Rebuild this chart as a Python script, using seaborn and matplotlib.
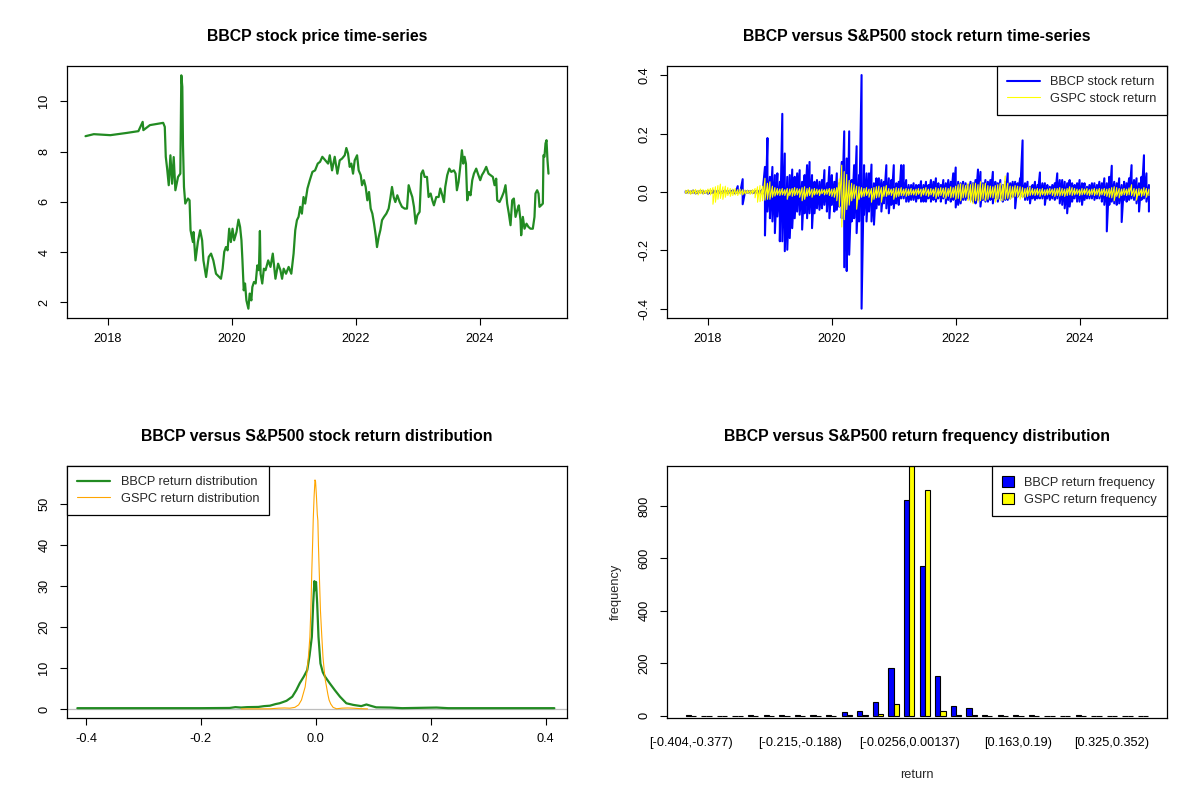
import numpy as np
import pandas as pd
import seaborn as sns
import matplotlib
matplotlib.use("Agg")
import matplotlib.pyplot as plt

# ---- BBCP price (decimal year, price) ----
price_year = [2017.637, 2017.771, 2018.037, 2018.304, 2018.491, 2018.560, 2018.571, 2018.677, 2018.891,
              2018.917, 2018.933, 2018.955, 2018.981, 2019.008, 2019.035, 2019.061, 2019.088, 2019.131,
              2019.168, 2019.184, 2019.200, 2019.211, 2019.227, 2019.248, 2019.291, 2019.317, 2019.333,
              2019.371, 2019.381, 2019.413, 2019.451, 2019.488, 2019.520, 2019.541, 2019.584, 2019.627,
              2019.664, 2019.701, 2019.744, 2019.797, 2019.824, 2019.851, 2019.877, 2019.904, 2019.931,
              2019.957, 2019.984, 2020.011, 2020.037, 2020.075, 2020.107, 2020.133, 2020.155, 2020.171,
              2020.192, 2020.213, 2020.235, 2020.267, 2020.288, 2020.315, 2020.331, 2020.357, 2020.384,
              2020.411, 2020.437, 2020.453, 2020.464, 2020.491, 2020.517, 2020.544, 2020.587, 2020.624,
              2020.661, 2020.704, 2020.747, 2020.784, 2020.811, 2020.837, 2020.875, 2020.917, 2020.960,
              2020.997, 2021.024, 2021.051, 2021.077, 2021.104, 2021.131, 2021.157, 2021.184, 2021.221,
              2021.259, 2021.301, 2021.344, 2021.387, 2021.424, 2021.461,
              2021.554, 2021.581, 2021.618, 2021.661, 2021.704, 2021.742, 2021.780, 2021.823, 2021.849,
              2021.876, 2021.903, 2021.930, 2021.957, 2021.984, 2022.022, 2022.048, 2022.081, 2022.102,
              2022.134, 2022.161, 2022.188, 2022.215, 2022.242, 2022.269, 2022.296, 2022.323, 2022.344,
              2022.371, 2022.398, 2022.425, 2022.457, 2022.495, 2022.532, 2022.559, 2022.586, 2022.613,
              2022.640, 2022.672, 2022.710, 2022.747, 2022.790, 2022.828, 2022.855, 2022.887, 2022.914,
              2022.941, 2022.968, 2022.995, 2023.032, 2023.059, 2023.086, 2023.113, 2023.151, 2023.177,
              2023.210, 2023.237, 2023.263, 2023.301, 2023.339, 2023.366, 2023.398, 2023.425, 2023.446,
              2023.478, 2023.511, 2023.543, 2023.586, 2023.613, 2023.634, 2023.661, 2023.688, 2023.715,
              2023.737, 2023.758, 2023.780, 2023.801, 2023.828, 2023.855, 2023.882, 2023.909, 2023.946,
              2023.973, 2024.011, 2024.038, 2024.070, 2024.108, 2024.145, 2024.177, 2024.215, 2024.242,
              2024.269, 2024.285, 2024.323, 2024.360, 2024.392, 2024.419, 2024.446, 2024.473, 2024.500,
              2024.527, 2024.554, 2024.581, 2024.608, 2024.634, 2024.661, 2024.672, 2024.699, 2024.726,
              2024.758, 2024.790, 2024.823, 2024.860, 2024.887, 2024.903, 2024.930, 2024.952, 2024.968,
              2024.995, 2025.022, 2025.032, 2025.048, 2025.065, 2025.081, 2025.097, 2025.113]
price_value = [8.61, 8.69, 8.65, 8.74, 8.81, 9.18, 8.85, 9.05, 9.14,
               8.98, 7.79, 7.32, 6.66, 7.85, 6.72, 7.78, 6.46, 6.99,
               7.12, 11.03, 10.57, 8.25, 6.59, 5.93, 6.13, 6.06, 4.87,
               4.40, 4.80, 3.67, 4.40, 4.87, 4.47, 3.67, 3.01, 3.81,
               3.94, 3.67, 3.14, 3.01, 2.94, 3.34, 4.01, 4.20, 4.07,
               4.93, 4.40, 4.93, 4.47, 4.80, 5.29, 5.00, 4.47, 3.67,
               2.48, 2.75, 2.08, 1.75, 2.35, 2.08, 2.61, 2.81, 2.75,
               3.47, 3.28, 4.84, 3.14, 2.75, 3.34, 3.28, 3.67, 3.41,
               3.94, 2.94, 3.54, 3.28, 2.94, 3.34, 3.14, 3.41, 3.14,
               3.94, 4.87, 5.27, 5.40, 5.80, 5.53, 6.19, 5.93, 6.53,
               6.86, 7.19, 7.25, 7.52, 7.59, 7.79,
               7.52, 7.85, 7.25, 7.79, 7.12, 7.65, 7.72, 7.85, 8.14,
               7.92, 7.39, 7.52, 7.12, 7.65, 7.85, 7.25, 7.06, 6.66,
               6.86, 6.59, 6.06, 6.39, 5.73, 5.53, 5.13, 4.67, 4.20,
               4.60, 4.87, 5.27, 5.40, 5.53, 5.73, 6.13, 6.59, 6.19,
               5.99, 6.26, 5.99, 5.80, 5.73, 5.73, 6.66, 6.39, 6.19,
               5.80, 5.13, 5.46, 5.60, 7.12, 7.25, 6.99, 6.99, 6.19,
               6.33, 6.06, 5.86, 6.19, 6.19, 6.53, 6.26, 5.99, 6.59,
               7.06, 7.32, 7.19, 7.25, 7.12, 6.46, 6.79, 7.39, 8.05,
               7.52, 7.79, 7.52, 6.06, 6.39, 6.26, 6.86, 7.12, 7.32,
               7.12, 6.86, 7.06, 7.19, 7.39, 7.12, 7.06, 6.99, 6.66,
               6.92, 6.06, 5.99, 6.19, 6.39, 6.66, 5.93, 5.53, 5.07,
               6.06, 6.13, 5.40, 5.66, 5.86, 5.27, 4.67, 5.40, 4.93,
               5.13, 5.00, 4.93, 4.93, 5.40, 6.33, 6.46, 6.33, 5.80,
               5.86, 5.93, 7.85, 7.79, 8.32, 8.45, 7.65, 7.12]

# ---- daily returns: upper / lower swing per sampling step ----
ret_start = 2017.64
ret_step = 0.04
bbcp_ret_hi = [0.003, 0.004, 0.002, 0.005, 0.003, 0.002, 0.004, 0.003, 0.002, 0.004,
               0.003, 0.005, 0.003, 0.004, 0.002, 0.003, 0.005, 0.003, 0.004, 0.006,
               0.003, 0.020, 0.003, 0.044, 0.003, 0.004, 0.003, 0.004, 0.003, 0.005,
               0.004, 0.008, 0.086, 0.185, 0.052, 0.086, 0.058, 0.064, 0.035, 0.268,
               0.132, 0.052, 0.058, 0.077, 0.052, 0.064, 0.075, 0.035, 0.058, 0.092,
               0.103, 0.058, 0.035, 0.041, 0.035, 0.041, 0.075, 0.030, 0.086, 0.058,
               0.035, 0.064, 0.030, 0.103, 0.208, 0.115, 0.208, 0.041, 0.092, 0.157,
               0.058, 0.401, 0.092, 0.064, 0.064, 0.094, 0.030, 0.047, 0.047, 0.041,
               0.035, 0.092, 0.047, 0.041, 0.092, 0.030, 0.035, 0.092, 0.092, 0.041,
               0.024, 0.024, 0.030, 0.024, 0.024, 0.037, 0.024, 0.035, 0.024, 0.041,
               0.035, 0.047, 0.030, 0.024, 0.041, 0.030, 0.041, 0.035, 0.064, 0.084,
               0.035, 0.030, 0.035, 0.030, 0.024, 0.035, 0.030, 0.041, 0.077, 0.069,
               0.030, 0.041, 0.035, 0.041, 0.069, 0.035, 0.030, 0.041, 0.024, 0.035,
               0.064, 0.030, 0.035, 0.035, 0.030, 0.047, 0.177, 0.030, 0.035, 0.018,
               0.024, 0.035, 0.024, 0.067, 0.030, 0.030, 0.024, 0.018, 0.024, 0.030,
               0.064, 0.041, 0.041, 0.035, 0.030, 0.041, 0.030, 0.024, 0.030, 0.041,
               0.030, 0.030, 0.018, 0.024, 0.030, 0.030, 0.024, 0.035, 0.030, 0.047,
               0.030, 0.052, 0.090, 0.035, 0.030, 0.047, 0.024, 0.035, 0.030, 0.047,
               0.092, 0.041, 0.047, 0.030, 0.052, 0.126, 0.064, 0.024]
bbcp_ret_lo = [-0.003, -0.002, -0.004, -0.003, -0.005, -0.003, -0.002, -0.004, -0.003, -0.006,
               -0.004, -0.003, -0.002, -0.003, -0.004, -0.003, -0.002, -0.004, -0.003, -0.003,
               -0.005, -0.003, -0.002, -0.042, -0.004, -0.003, -0.002, -0.004, -0.003, -0.004,
               -0.003, -0.006, -0.149, -0.067, -0.090, -0.101, -0.141, -0.084, -0.169, -0.169,
               -0.203, -0.198, -0.158, -0.124, -0.090, -0.067, -0.078, -0.129, -0.073, -0.090,
               -0.073, -0.124, -0.073, -0.056, -0.061, -0.056, -0.044, -0.067, -0.090, -0.044,
               -0.067, -0.061, -0.050, -0.090, -0.258, -0.271, -0.215, -0.101, -0.090, -0.141,
               -0.101, -0.400, -0.078, -0.101, -0.067, -0.101, -0.112, -0.056, -0.044, -0.067,
               -0.039, -0.056, -0.073, -0.044, -0.056, -0.039, -0.044, -0.022, -0.022, -0.033,
               -0.033, -0.027, -0.027, -0.033, -0.022, -0.033, -0.033, -0.033, -0.022, -0.033,
               -0.027, -0.033, -0.022, -0.033, -0.022, -0.039, -0.027, -0.033, -0.027, -0.053,
               -0.044, -0.039, -0.027, -0.027, -0.022, -0.027, -0.033, -0.039, -0.027, -0.050,
               -0.027, -0.033, -0.033, -0.027, -0.039, -0.022, -0.033, -0.022, -0.033, -0.027,
               -0.027, -0.022, -0.016, -0.056, -0.016, -0.010, -0.016, -0.027, -0.027, -0.039,
               -0.022, -0.027, -0.022, -0.022, -0.022, -0.044, -0.022, -0.027, -0.022, -0.027,
               -0.022, -0.039, -0.044, -0.056, -0.073, -0.050, -0.033, -0.022, -0.033, -0.033,
               -0.044, -0.027, -0.022, -0.022, -0.022, -0.027, -0.022, -0.022, -0.033, -0.044,
               -0.135, -0.044, -0.033, -0.039, -0.044, -0.039, -0.103, -0.027, -0.033, -0.027,
               -0.022, -0.027, -0.039, -0.067, -0.027, -0.022, -0.033, -0.067]
gspc_ret_hi = [0.006, 0.008, 0.005, 0.007, 0.009, 0.006, 0.010, 0.008, 0.006, 0.010,
               0.012, 0.015, 0.018, 0.022, 0.027, 0.018, 0.020, 0.015, 0.012, 0.010,
               0.012, 0.008, 0.010, 0.008, 0.007, 0.006, 0.006, 0.008, 0.012, 0.018,
               0.022, 0.020, 0.047, 0.030, 0.035, 0.020, 0.015, 0.012, 0.010, 0.012,
               0.008, 0.012, 0.010, 0.012, 0.015, 0.012, 0.010, 0.015, 0.018, 0.012,
               0.015, 0.010, 0.012, 0.010, 0.008, 0.010, 0.008, 0.010, 0.012, 0.010,
               0.012, 0.015, 0.045, 0.092, 0.070, 0.060, 0.040, 0.030, 0.025, 0.020,
               0.018, 0.015, 0.012, 0.015, 0.010, 0.012, 0.015, 0.018, 0.020, 0.015,
               0.018, 0.022, 0.012, 0.010, 0.012, 0.015, 0.012, 0.015, 0.010, 0.012,
               0.010, 0.012, 0.008, 0.010, 0.012, 0.010, 0.012, 0.015, 0.010, 0.012,
               0.010, 0.015, 0.012, 0.015, 0.013, 0.015, 0.012, 0.018, 0.015, 0.020,
               0.025, 0.028, 0.025, 0.022, 0.030, 0.025, 0.030, 0.030, 0.025, 0.035,
               0.028, 0.030, 0.022, 0.020, 0.018, 0.022, 0.025, 0.030, 0.025, 0.055,
               0.030, 0.020, 0.018, 0.022, 0.020, 0.018, 0.015, 0.012, 0.015, 0.018,
               0.012, 0.010, 0.012, 0.010, 0.012, 0.008, 0.010, 0.012, 0.010, 0.012,
               0.012, 0.015, 0.012, 0.010, 0.012, 0.018, 0.015, 0.012, 0.010, 0.008,
               0.012, 0.010, 0.012, 0.008, 0.010, 0.012, 0.010, 0.012, 0.010, 0.012,
               0.010, 0.012, 0.015, 0.018, 0.015, 0.012, 0.010, 0.012, 0.010, 0.014,
               0.025, 0.012, 0.010, 0.012, 0.010, 0.015, 0.012, 0.010]
gspc_ret_lo = [-0.005, -0.006, -0.008, -0.006, -0.007, -0.010, -0.006, -0.008, -0.005, -0.007,
               -0.010, -0.042, -0.035, -0.025, -0.022, -0.025, -0.018, -0.012, -0.015, -0.012,
               -0.010, -0.012, -0.008, -0.010, -0.007, -0.005, -0.008, -0.006, -0.020, -0.035,
               -0.033, -0.030, -0.028, -0.025, -0.025, -0.018, -0.014, -0.010, -0.012, -0.010,
               -0.012, -0.025, -0.012, -0.015, -0.012, -0.010, -0.018, -0.030, -0.025, -0.015,
               -0.012, -0.018, -0.010, -0.008, -0.012, -0.006, -0.010, -0.008, -0.012, -0.015,
               -0.018, -0.030, -0.050, -0.120, -0.095, -0.060, -0.045, -0.030, -0.022, -0.059,
               -0.025, -0.018, -0.015, -0.012, -0.018, -0.035, -0.025, -0.020, -0.018, -0.035,
               -0.015, -0.015, -0.010, -0.012, -0.025, -0.018, -0.015, -0.012, -0.012, -0.015,
               -0.012, -0.010, -0.010, -0.012, -0.008, -0.015, -0.010, -0.012, -0.015, -0.010,
               -0.015, -0.022, -0.015, -0.012, -0.018, -0.022, -0.015, -0.020, -0.018, -0.025,
               -0.022, -0.030, -0.020, -0.018, -0.030, -0.035, -0.040, -0.030, -0.035, -0.030,
               -0.025, -0.030, -0.025, -0.018, -0.020, -0.035, -0.025, -0.030, -0.030, -0.025,
               -0.022, -0.025, -0.020, -0.015, -0.018, -0.025, -0.020, -0.018, -0.015, -0.012,
               -0.010, -0.012, -0.010, -0.015, -0.010, -0.012, -0.010, -0.008, -0.012, -0.015,
               -0.012, -0.014, -0.012, -0.015, -0.012, -0.010, -0.012, -0.010, -0.008, -0.012,
               -0.010, -0.008, -0.010, -0.012, -0.010, -0.012, -0.010, -0.014, -0.010, -0.012,
               -0.015, -0.018, -0.020, -0.030, -0.015, -0.020, -0.012, -0.010, -0.012, -0.010,
               -0.012, -0.015, -0.028, -0.012, -0.015, -0.012, -0.018, -0.012]

# ---- kernel densities of the returns (x, density) ----
bbcp_dens_x = [-0.415, -0.2, -0.15, -0.14, -0.13, -0.12, -0.10, -0.09, -0.08, -0.07, -0.063,
               -0.057, -0.051, -0.045, -0.041, -0.034, -0.028, -0.021, -0.015, -0.011, -0.007,
               -0.0046, -0.0025, -0.0012, 0.0003, 0.0023, 0.0046, 0.008, 0.012, 0.016, 0.024,
               0.033, 0.042, 0.053, 0.065, 0.079, 0.088, 0.095, 0.105, 0.13, 0.15, 0.21, 0.23, 0.415]
bbcp_dens_y = [0.2, 0.2, 0.25, 0.45, 0.35, 0.45, 0.5, 0.7, 0.8, 1.2, 1.4,
               1.7, 2.0, 2.6, 3.0, 4.6, 6.3, 7.9, 9.5, 13.0, 17.6,
               25.8, 31.2, 29.0, 31.0, 25.8, 17.6, 11.1, 9.0, 7.9, 6.3,
               4.6, 3.0, 1.4, 1.0, 0.7, 1.1, 0.8, 0.4, 0.35, 0.2, 0.35, 0.2, 0.2]
gspc_dens_x = [-0.13, -0.10, -0.08, -0.065, -0.055, -0.045, -0.0365, -0.03, -0.025, -0.0186,
               -0.015, -0.0125, -0.0104, -0.0085, -0.007, -0.0055, -0.0046, -0.003, -0.0015,
               -0.0005, 0.001, 0.0025, 0.0035, 0.0045, 0.0058, 0.008, 0.0104, 0.0125, 0.0145,
               0.0165, 0.0186, 0.021, 0.023, 0.026, 0.030, 0.036, 0.045, 0.055, 0.065, 0.075, 0.09]
gspc_dens_y = [0.02, 0.03, 0.05, 0.2, 0.25, 0.2, 0.4, 1.0, 2.2, 5.4,
               9.5, 13.5, 17.6, 25.0, 33.9, 41.0, 46.0, 52.0, 55.9,
               55.5, 52.0, 47.5, 46.0, 40.0, 33.9, 24.0, 17.6, 12.5, 9.5,
               7.0, 5.4, 3.5, 2.2, 1.2, 0.4, 0.05, 0.2, 0.25, 0.2, 0.1, 0.02]

# ---- return frequency table (30 bins) ----
bin_labels = ["[-0.404,-0.377)", "[-0.377,-0.35)", "[-0.35,-0.323)", "[-0.323,-0.296)",
              "[-0.296,-0.269)", "[-0.269,-0.242)", "[-0.242,-0.215)", "[-0.215,-0.188)",
              "[-0.188,-0.161)", "[-0.161,-0.134)", "[-0.134,-0.107)", "[-0.107,-0.0795)",
              "[-0.0795,-0.0526)", "[-0.0526,-0.0256)", "[-0.0256,0.00137)", "[0.00137,0.0283)",
              "[0.0283,0.0553)", "[0.0553,0.0823)", "[0.0823,0.109)", "[0.109,0.136)",
              "[0.136,0.163)", "[0.163,0.19)", "[0.19,0.217)", "[0.217,0.244)",
              "[0.244,0.271)", "[0.271,0.298)", "[0.298,0.325)", "[0.325,0.352)",
              "[0.352,0.379)", "[0.379,0.406]"]
bbcp_freq = [1, 0, 0, 0, 1, 1, 1, 1, 1, 1, 12, 17, 50, 182, 822,
             570, 152, 38, 28, 1, 1, 1, 1, 0, 0, 1, 0, 0, 0, 0]
gspc_freq = [0, 0, 0, 0, 0, 0, 0, 0, 0, 0, 1, 3, 4, 43, 953,
             860, 16, 2, 1, 0, 0, 0, 0, 0, 0, 0, 0, 0, 0, 0]
shown_bins = [0, 7, 14, 21, 27]

sns.set_style("ticks")
plt.rcParams['font.family'] = ['Liberation Sans', 'DejaVu Sans']
plt.rcParams['axes.unicode_minus'] = False
plt.rcParams['axes.linewidth'] = 0.9

fig = plt.figure(figsize=(12, 8), dpi=100)
W, H = 500 / 1200, 252 / 800
ax1 = fig.add_axes([67 / 1200, 1 - 318 / 800, W, H])
ax2 = fig.add_axes([667 / 1200, 1 - 318 / 800, W, H])
ax3 = fig.add_axes([67 / 1200, 1 - 718 / 800, W, H])
ax4 = fig.add_axes([667 / 1200, 1 - 718 / 800, W, H])

title_kw = dict(fontsize=11.4, fontweight='bold', pad=18, color='black')
tick_fs = 9.2


def r_axes(ax):
    # base-R look: full black box, outward ticks, rotated y labels
    for s in ax.spines.values():
        s.set_visible(True)
        s.set_color('black')
    ax.tick_params(direction='out', length=5, width=0.8, labelsize=tick_fs, colors='black')
    ax.tick_params(axis='x', pad=5.5)
    ax.tick_params(axis='y', pad=7)
    for lab in ax.get_yticklabels():
        lab.set_rotation(90)
        lab.set_va('center')
    ax.set_xlabel('')
    ax.set_ylabel('')


def legend_box(ax, loc, **kw):
    leg = ax.legend(loc=loc, borderaxespad=0, fancybox=False, framealpha=1, edgecolor='black',
                    fontsize=tick_fs, borderpad=0.8, labelspacing=0.35, **kw)
    leg.get_frame().set_linewidth(0.9)
    return leg


# --- panel 1: price ---
sns.lineplot(x=price_year, y=price_value, ax=ax1, color='forestgreen', linewidth=1.6,
             estimator=None, sort=False)
t_lo, t_hi = 2017.637, 2025.113
pad_t = 0.04 * (t_hi - t_lo)
ax1.set_xlim(t_lo - pad_t, t_hi + pad_t)
ax1.set_ylim(1.75 - 0.04 * 9.28, 11.03 + 0.04 * 9.28)
ax1.set_xticks([2018, 2020, 2022, 2024])
ax1.set_yticks([2, 4, 6, 8, 10])
ax1.set_title('BBCP stock price time-series', **title_kw)
r_axes(ax1)

# --- panel 2: returns ---
n_ret = len(bbcp_ret_hi)
ret_year = ret_start + ret_step * np.arange(n_ret)
t2 = np.repeat(ret_year, 2)
bbcp_ret = np.column_stack([bbcp_ret_hi, bbcp_ret_lo]).ravel()
gspc_ret = np.column_stack([gspc_ret_hi, gspc_ret_lo]).ravel()
sns.lineplot(x=t2, y=bbcp_ret, ax=ax2, color='blue', linewidth=1.5, estimator=None, sort=False,
             label='BBCP stock return')
sns.lineplot(x=t2, y=gspc_ret, ax=ax2, color='yellow', linewidth=0.8, estimator=None, sort=False,
             label='GSPC stock return')
ax2.set_xlim(t_lo - pad_t, t_hi + pad_t)
ax2.set_ylim(-0.432, 0.432)
ax2.set_xticks([2018, 2020, 2022, 2024])
ax2.set_yticks([-0.4, -0.2, 0.0, 0.2, 0.4])
ax2.set_yticklabels(['-0.4', '-0.2', '0.0', '0.2', '0.4'])
ax2.set_title('BBCP versus S&P500 stock return time-series', **title_kw)
legend_box(ax2, 'upper right', handlelength=2.6)
r_axes(ax2)

# --- panel 3: densities ---
sns.lineplot(x=bbcp_dens_x, y=bbcp_dens_y, ax=ax3, color='forestgreen', linewidth=1.6,
             estimator=None, sort=False, label='BBCP return distribution')
ax3.axhline(0, color='#BEBEBE', linewidth=0.9, zorder=1.5)
sns.lineplot(x=gspc_dens_x, y=gspc_dens_y, ax=ax3, color='orange', linewidth=0.8,
             estimator=None, sort=False, label='GSPC return distribution')
ax3.set_xlim(-0.433, 0.437)
ax3.set_ylim(-2.2, 59.3)
ax3.set_xticks([-0.4, -0.2, 0.0, 0.2, 0.4])
ax3.set_xticklabels(['-0.4', '-0.2', '0.0', '0.2', '0.4'])
ax3.set_yticks([0, 10, 20, 30, 40, 50])
ax3.set_title('BBCP versus S&P500 stock return distribution', **title_kw)
legend_box(ax3, 'upper left', handlelength=2.6)
r_axes(ax3)

# --- panel 4: frequency bars ---
freq = pd.DataFrame({
    'bin': bin_labels * 2,
    'series': ['BBCP return frequency'] * len(bin_labels) + ['GSPC return frequency'] * len(bin_labels),
    'count': bbcp_freq + gspc_freq,
})
sns.barplot(data=freq, x='bin', y='count', hue='series', order=bin_labels,
            hue_order=['BBCP return frequency', 'GSPC return frequency'],
            palette=['blue', 'yellow'], width=2 / 3, gap=0, edgecolor='black', linewidth=0.8,
            saturation=1, ax=ax4)
ymax = max(bbcp_freq + gspc_freq)
ax4.set_ylim(-0.01 * ymax, ymax)
ax4.set_xlim(-1.52, 30.52)
ax4.set_yticks([0, 200, 400, 600, 800])
ax4.set_xticks(shown_bins)
ax4.set_xticklabels([bin_labels[i] for i in shown_bins])
ax4.set_title('BBCP versus S&P500 return frequency distribution', **title_kw)
h, l = ax4.get_legend_handles_labels()
ax4.legend_.remove()
legend_box(ax4, 'upper right', handles=h, labels=l, handlelength=0.9, handleheight=0.9)
r_axes(ax4)
ax4.tick_params(axis='x', length=0, pad=14)
ax4.set_xlabel('return', fontsize=tick_fs, labelpad=14)
ax4.set_ylabel('frequency', fontsize=tick_fs, labelpad=12)

fig.savefig('out.png', dpi=100)
